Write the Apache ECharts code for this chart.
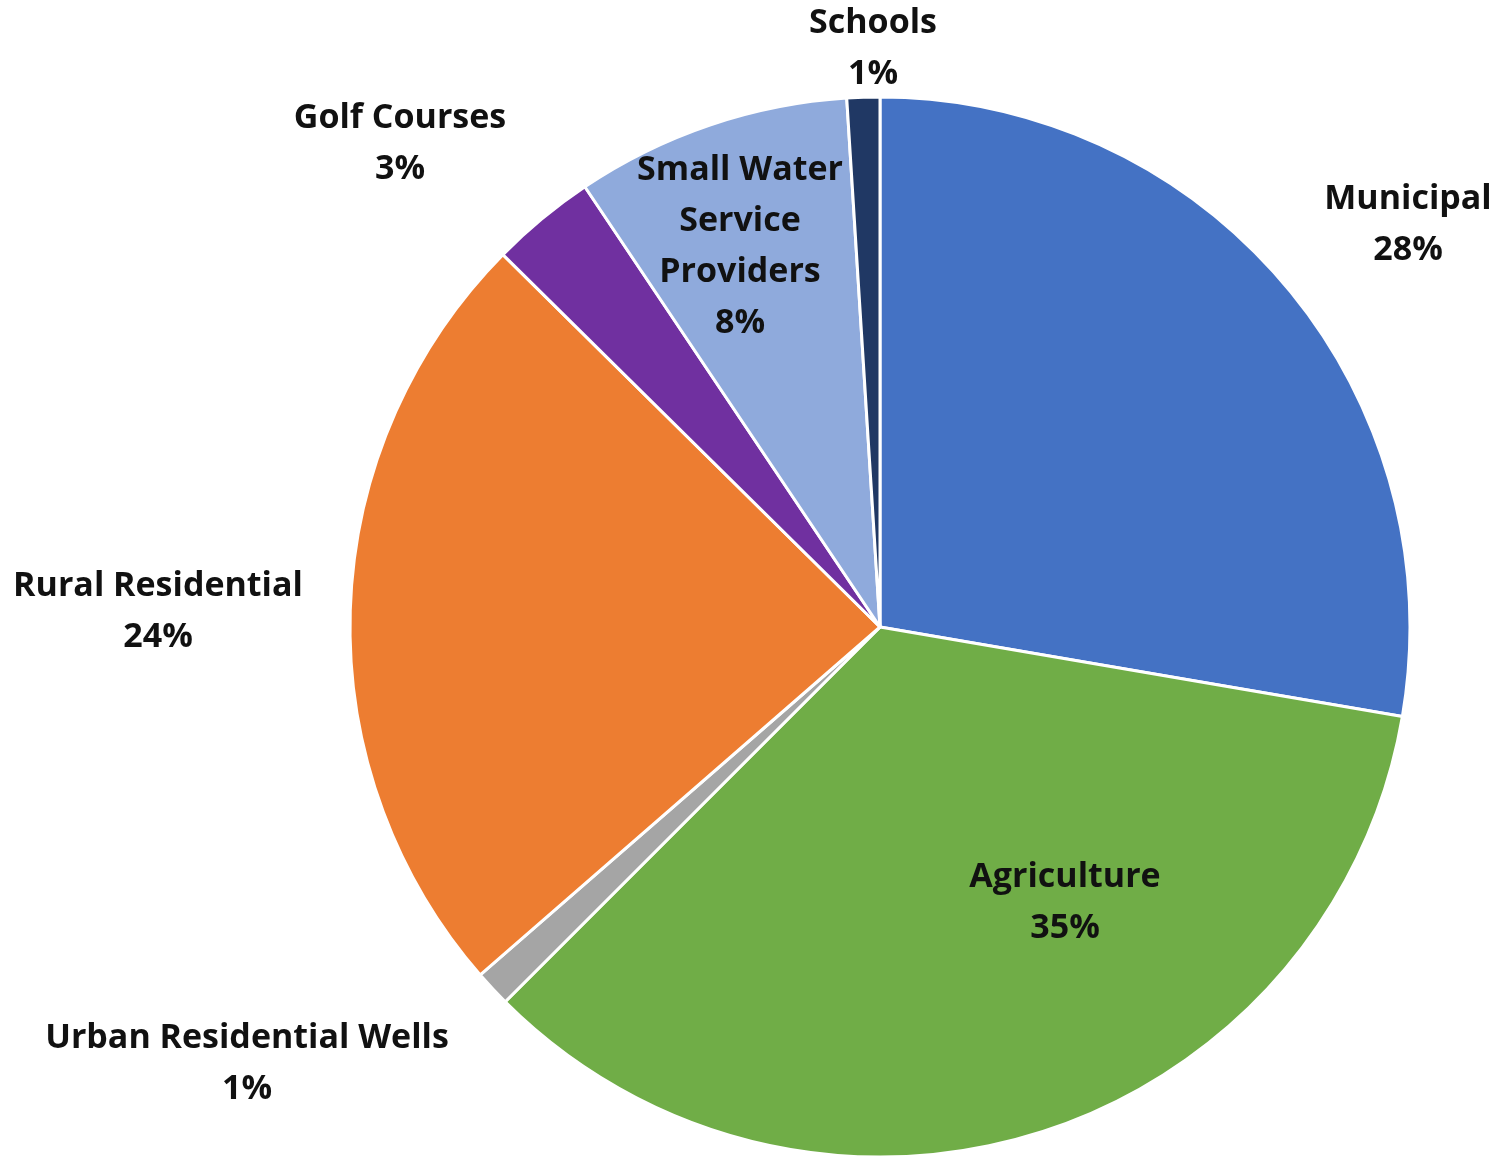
<!DOCTYPE html>
<html>
<head>
<meta charset="utf-8">
<script src="https://cdn.jsdelivr.net/npm/echarts@6/dist/echarts.min.js"></script>
<style>
html,body{margin:0;padding:0;background:#fff;}
#chart{width:1498px;height:1160px;}
</style>
</head>
<body>
<div id="chart"></div>
<script>
// Data
var categories = ["Municipal", "Agriculture", "Urban Residential Wells", "Rural Residential", "Golf Courses", "Small Water\nService\nProviders", "Schools"];
var values = [27.7, 34.8, 1.1, 23.8, 3.2, 8.4, 1.0];
var colors = ["#4472C4", "#70AD47", "#A5A5A5", "#ED7D31", "#7030A0", "#8FAADC", "#203864"];
// Label anchor positions (text block centers), in px
var labelPos = [[1408, 225], [1065, 903], [247, 1064], [158, 612], [400, 144], [740, 247], [873, 49]];

var chart = echarts.init(document.getElementById('chart'));
var data = categories.map(function (c, i) {
  return { name: c, value: values[i], itemStyle: { color: colors[i] } };
});
chart.setOption({
  animation: false,
  series: [{
    type: 'pie',
    center: [880, 627],
    radius: 530,
    startAngle: 90,
    clockwise: true,
    data: data,
    itemStyle: { borderColor: '#fff', borderWidth: 3 },
    label: {
      show: true,
      position: 'inside',
      formatter: function (p) { return p.name + '\n' + Math.round(p.percent) + '%'; },
      fontFamily: 'Open Sans',
      fontWeight: 'bold',
      fontSize: 34,
      lineHeight: 51,
      color: '#111',
      align: 'center'
    },
    labelLine: { show: false },
    labelLayout: function (params) {
      var p = labelPos[params.dataIndex];
      return { x: p[0], y: p[1], align: 'center', verticalAlign: 'middle' };
    }
  }]
});
</script>
</body>
</html>
